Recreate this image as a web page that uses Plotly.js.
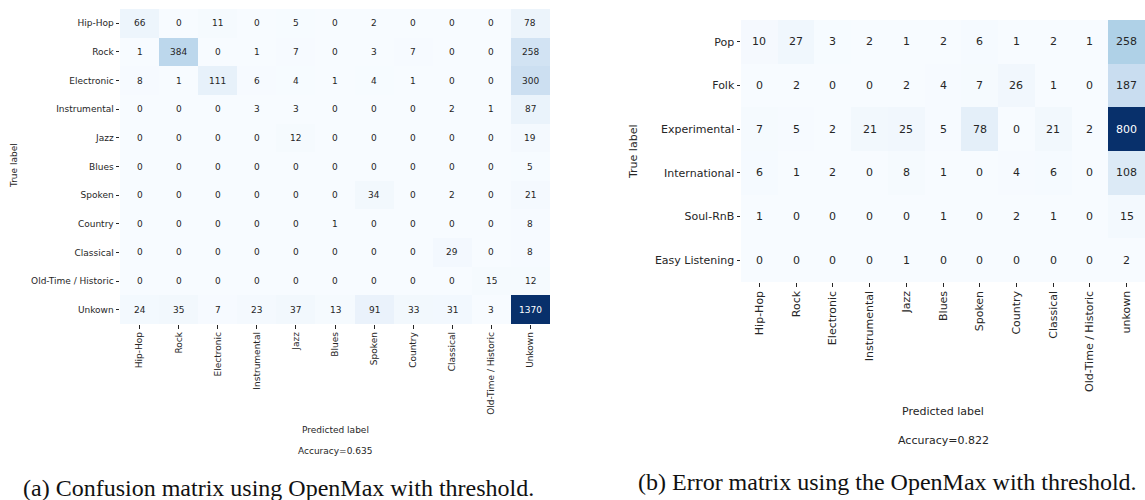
<!DOCTYPE html>
<html>
<head>
<meta charset="utf-8">
<script src="https://cdn.plot.ly/plotly-3.0.1.min.js"></script>
<style>html,body{margin:0;padding:0;background:#fff;}#chart{width:1145px;height:500px;}</style>
</head>
<body>
<div id="chart"></div>
<script>
// ---- Data ----
const leftTrue = ["Hip-Hop","Rock","Electronic","Instrumental","Jazz","Blues","Spoken","Country","Classical","Old-Time / Historic","Unkown"];
const leftPred = ["Hip-Hop","Rock","Electronic","Instrumental","Jazz","Blues","Spoken","Country","Classical","Old-Time / Historic","Unkown"];
const leftValues = [
  [66, 0, 11, 0, 5, 0, 2, 0, 0, 0, 78],
  [1, 384, 0, 1, 7, 0, 3, 7, 0, 0, 258],
  [8, 1, 111, 6, 4, 1, 4, 1, 0, 0, 300],
  [0, 0, 0, 3, 3, 0, 0, 0, 2, 1, 87],
  [0, 0, 0, 0, 12, 0, 0, 0, 0, 0, 19],
  [0, 0, 0, 0, 0, 0, 0, 0, 0, 0, 5],
  [0, 0, 0, 0, 0, 0, 34, 0, 2, 0, 21],
  [0, 0, 0, 0, 0, 1, 0, 0, 0, 0, 8],
  [0, 0, 0, 0, 0, 0, 0, 0, 29, 0, 8],
  [0, 0, 0, 0, 0, 0, 0, 0, 0, 15, 12],
  [24, 35, 7, 23, 37, 13, 91, 33, 31, 3, 1370]
];
const leftAccuracy = "Accuracy=0.635";

const rightTrue = ["Pop","Folk","Experimental","International","Soul-RnB","Easy Listening"];
const rightPred = ["Hip-Hop","Rock","Electronic","Instrumental","Jazz","Blues","Spoken","Country","Classical","Old-Time / Historic","unkown"];
const rightValues = [
  [10, 27, 3, 2, 1, 2, 6, 1, 2, 1, 258],
  [0, 2, 0, 0, 2, 4, 7, 26, 1, 0, 187],
  [7, 5, 2, 21, 25, 5, 78, 0, 21, 2, 800],
  [6, 1, 2, 0, 8, 1, 0, 4, 6, 0, 108],
  [1, 0, 0, 0, 0, 1, 0, 2, 1, 0, 15],
  [0, 0, 0, 0, 1, 0, 0, 0, 0, 0, 2]
];
const rightAccuracy = "Accuracy=0.822";

const captionA = "(a) Confusion matrix using OpenMax with threshold.";
const captionB = "(b) Error matrix using the OpenMax with threshold.";

// matplotlib "Blues"
const blues = [
  [0.0, "#f7fbff"], [0.125, "#deebf7"], [0.25, "#c6dbef"], [0.375, "#9ecae1"],
  [0.5, "#6baed6"], [0.625, "#4292c6"], [0.75, "#2171b5"], [0.875, "#08519c"], [1.0, "#08306b"]
];

const W = 1145, H = 500;
const fontFam = "DejaVu Sans, sans-serif";
const serif = "Liberation Serif, Times New Roman, serif";
const txtCol = "#262626";

function cellAnnotations(vals, xs, ys, xref, yref, size) {
  let mx = 0;
  vals.forEach(r => r.forEach(v => { if (v > mx) mx = v; }));
  const out = [];
  vals.forEach((row, i) => row.forEach((v, j) => {
    out.push({
      x: xs[j], y: ys[i], xref: xref, yref: yref, text: String(v), showarrow: false,
      xanchor: "center", yanchor: "middle",
      font: {family: fontFam, size: size, color: v > mx / 2 ? "#ffffff" : txtCol}
    });
  }));
  return out;
}

const traces = [
  {type: "heatmap", z: leftValues, x: leftPred, y: leftTrue, xaxis: "x", yaxis: "y",
   colorscale: blues, showscale: false, hoverinfo: "skip"},
  {type: "heatmap", z: rightValues, x: rightPred, y: rightTrue, xaxis: "x2", yaxis: "y2",
   colorscale: blues, showscale: false, hoverinfo: "skip"}
];

const px = v => v / W;
const py = v => 1 - v / H;

const axBase = {
  type: "category", ticks: "outside", ticklen: 3.5, tickwidth: 1, tickcolor: txtCol,
  showgrid: false, zeroline: false, showline: false, fixedrange: true
};

const layout = {
  width: W, height: H,
  margin: {l: 0, r: 0, t: 0, b: 0},
  paper_bgcolor: "#ffffff", plot_bgcolor: "#ffffff",
  showlegend: false,
  font: {family: fontFam, color: txtCol},
  xaxis: Object.assign({}, axBase, {domain: [px(120), px(550)], anchor: "y", tickangle: -90,
    tickfont: {family: fontFam, size: 9, color: txtCol}}),
  yaxis: Object.assign({}, axBase, {domain: [py(324), py(9)], anchor: "x", autorange: "reversed",
    tickfont: {family: fontFam, size: 9, color: txtCol}}),
  xaxis2: Object.assign({}, axBase, {domain: [px(741), px(1145)], anchor: "y2", tickangle: -90,
    tickfont: {family: fontFam, size: 11, color: txtCol}}),
  yaxis2: Object.assign({}, axBase, {domain: [py(282), py(20)], anchor: "x2", autorange: "reversed",
    tickfont: {family: fontFam, size: 11, color: txtCol}}),
  annotations: []
};

function label(x, y, text, size, family, color, angle) {
  return {xref: "paper", yref: "paper", x: px(x), y: py(y), text: text, showarrow: false,
    xanchor: "center", yanchor: "middle", textangle: angle || 0,
    font: {family: family, size: size, color: color}};
}

let ann = [];
ann = ann.concat(cellAnnotations(leftValues, leftPred, leftTrue, "x", "y", 9));
ann = ann.concat(cellAnnotations(rightValues, rightPred, rightTrue, "x2", "y2", 11));

ann.push(label(14, 166, "True label", 9, fontFam, txtCol, -90));
ann.push(label(335, 430, "Predicted label", 9, fontFam, txtCol));
ann.push(label(335, 451, leftAccuracy, 9, fontFam, txtCol));

ann.push(label(633, 152, "True label", 11, fontFam, txtCol, -90));
ann.push(label(943, 411, "Predicted label", 11, fontFam, txtCol));
ann.push(label(943, 440, rightAccuracy, 11, fontFam, txtCol));

ann.push(label(278, 488, captionA, 24, serif, "#111"));
ann.push(label(887, 482, captionB, 24, serif, "#111"));

layout.annotations = ann;

Plotly.newPlot("chart", traces, layout, {displayModeBar: false, staticPlot: true});
</script>
</body>
</html>
